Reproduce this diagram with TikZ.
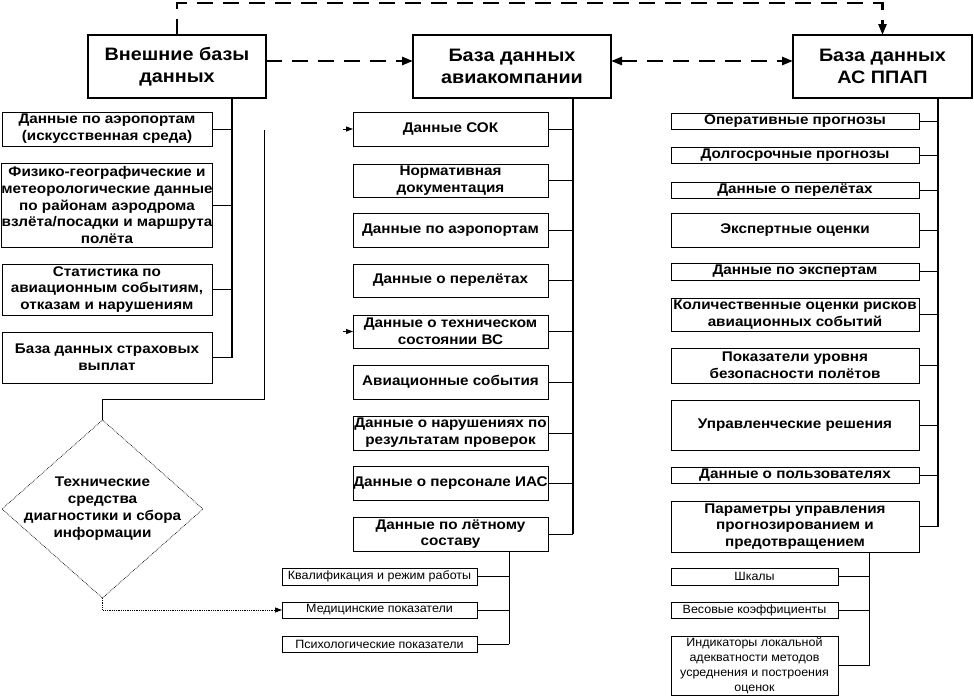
\documentclass[tikz,border=0pt]{standalone}
\usepackage{fontspec}
\setmainfont{Liberation Sans}[FakeStretch=1.04]
\newfontfamily\boxfnt{Liberation Sans}[FakeStretch=1.09]
\newfontfamily\mainfnt{Liberation Sans}[FakeStretch=1.1]
\usetikzlibrary{arrows.meta,shapes.geometric}
\begin{document}
\begin{tikzpicture}[x=1pt,y=-1pt,
  every node/.style={inner sep=0pt, outer sep=0pt},
  mainbox/.style={draw, line width=2.6pt, align=center, minimum height=63pt, font=\mainfnt\fontsize{18}{22}\selectfont\bfseries},
  box/.style={draw, line width=0.9pt, align=center, font=\boxfnt\fontsize{14}{16.8}\selectfont\bfseries},
  lbox/.style={box, minimum width=210pt},
  mbox/.style={box, minimum width=195pt},
  rbox/.style={box, minimum width=248pt},
  subbox/.style={draw, line width=0.9pt, align=center, font=\fontsize{12}{15}\selectfont},
  msub/.style={subbox, minimum width=195pt},
  rsub/.style={subbox, minimum width=167pt},
  trunk/.style={line width=1.8pt},
  thintrunk/.style={line width=1.1pt},
  branch/.style={line width=0.9pt},
  bigdash/.style={line width=2.6pt, dash pattern=on 16pt off 10pt},
  bigtip/.style={-{Triangle[length=11pt,width=8pt]}},
  smalltip/.style={-{Triangle[length=7pt,width=5pt]}}
]
\useasboundingbox (0,0) rectangle (974,696);

% main boxes
\node[mainbox, minimum width=178pt] (ext) at (177,66.5) {Внешние базы\\данных};
\node[mainbox, minimum width=198pt] (air) at (512,66.5) {База данных\\авиакомпании};
\node[mainbox, minimum width=179pt] (ppap) at (882.5,66.5) {База данных\\АС ППАП};

% dashed connections
\draw[bigdash, bigtip] (ext.north) -- ++(0,-32) -| (ppap.north);
\draw[bigdash, bigtip] ([yshift=5.5pt]ext.east) -- ([yshift=5.5pt]air.west);
\draw[bigdash, {Triangle[length=11pt,width=8pt]}-{Triangle[length=11pt,width=8pt]}] ([yshift=5.5pt]air.east) -- ([yshift=5.5pt]ppap.west);

% left column
\node[lbox, minimum height=34pt] (l1) at (107,129) {Данные по аэропортам\\(искусственная среда)};
\node[lbox, minimum height=84pt] (l2) at (107,205) {Физико-географические и\\метеорологические данные\\по районам аэродрома\\взлёта/посадки и маршрута\\полёта};
\node[lbox, minimum height=51pt] (l3) at (107,289.5) {Статистика по\\авиационным событиям,\\отказам и нарушениям};
\node[lbox, minimum height=51pt] (l4) at (107,357.5) {База данных страховых\\выплат};
\coordinate (lt) at (232,357.5);
\draw[trunk] (ext.south -| lt) -- (lt);
\foreach \n in {l1,l2,l3,l4} \draw[branch] (\n.east) -- (\n.east -| lt);

% middle column
\node[mbox, minimum height=34pt] (m1) at (450.5,129) {Данные СОК};
\node[mbox, minimum height=33pt] (m2) at (450.5,180.5) {Нормативная\\документация};
\node[mbox, minimum height=34pt] (m3) at (450.5,230) {Данные по аэропортам};
\node[mbox, minimum height=33pt] (m4) at (450.5,280.5) {Данные о перелётах};
\node[mbox, minimum height=33pt] (m5) at (450.5,331.5) {Данные о техническом\\состоянии ВС};
\node[mbox, minimum height=34pt] (m6) at (450.5,382) {Авиационные события};
\node[mbox, minimum height=34pt] (m7) at (450.5,433) {Данные о нарушениях по\\результатам проверок};
\node[mbox, minimum height=34pt] (m8) at (450.5,483) {Данные о персонале ИАС};
\node[mbox, minimum height=34pt] (m9) at (450.5,534) {Данные по лётному\\составу};
\coordinate (mt) at (573,534);
\draw[trunk] (air.south -| mt) -- (mt);
\foreach \n in {m1,m2,m3,m4,m5,m6,m7,m8,m9} \draw[branch] (\n.east) -- (\n.east -| mt);
\draw[branch, smalltip] ([xshift=-10pt]m1.west) -- (m1.west);
\draw[branch, smalltip] ([xshift=-10pt]m5.west) -- (m5.west);

% middle sub
\node[msub, minimum height=17pt] (s1) at (379.5,576.5) {Квалификация и режим работы};
\node[msub, minimum height=16pt] (s2) at (379.5,610) {Медицинские показатели};
\node[msub, minimum height=16pt] (s3) at (379.5,644) {Психологические показатели};
\coordinate (st) at (509,644);
\draw[branch] (m9.south -| st) -- (st);
\foreach \n in {s1,s2,s3} \draw[branch] (\n.east) -- (\n.east -| st);

% right column
\node[rbox, minimum height=16pt] (r1) at (795,121) {Оперативные прогнозы};
\node[rbox, minimum height=16pt] (r2) at (795,155) {Долгосрочные прогнозы};
\node[rbox, minimum height=16pt] (r3) at (795,190) {Данные о перелётах};
\node[rbox, minimum height=34pt] (r4) at (795,230) {Экспертные оценки};
\node[rbox, minimum height=17pt] (r5) at (795,271.5) {Данные по экспертам};
\node[rbox, minimum height=33pt] (r6) at (795,314.5) {Количественные оценки рисков\\авиационных событий};
\node[rbox, minimum height=35pt] (r7) at (795,365.5) {Показатели уровня\\безопасности полётов};
\node[rbox, minimum height=50pt] (r8) at (795,425) {Управленческие решения};
\node[rbox, minimum height=16pt] (r9) at (795,475) {Данные о пользователях};
\node[rbox, minimum height=51pt] (r10) at (795,526.5) {Параметры управления\\прогнозированием и\\предотвращением};
\coordinate (rt) at (938,526.5);
\draw[thintrunk] (ppap.south -| rt) -- (rt);
\foreach \n in {r1,r2,r3,r4,r5,r6,r7,r8,r9,r10} \draw[branch] (\n.east) -- (\n.east -| rt);

% right sub
\node[rsub, minimum height=17pt] (q1) at (754.5,576.5) {Шкалы};
\node[rsub, minimum height=16pt] (q2) at (754.5,610) {Весовые коэффициенты};
\node[rsub, minimum height=59pt] (q3) at (754.5,665.5) {Индикаторы локальной\\адекватности методов\\усреднения и построения\\оценок};
\coordinate (qt) at (869,665.5);
\draw[branch] (r10.south -| qt) -- (qt);
\foreach \n in {q1,q2,q3} \draw[branch] (\n.east) -- (\n.east -| qt);

% diamond
\node[diamond, draw, densely dotted, line width=0.7pt, minimum width=201pt, minimum height=178pt] (dia) at (102.5,509) {};
\node[align=center, font=\boxfnt\fontsize{14}{17}\selectfont\bfseries] (diat) at (dia.center) {Технические\\средства\\диагностики и сбора\\информации};
\coordinate (gc) at (264,399);
\coordinate (gr) at (264,130);
\draw[branch] (dia.north) |- (gc) -- (gr);
\draw[densely dotted, line width=0.8pt, smalltip] (dia.south) |- (s2.west);
\end{tikzpicture}
\end{document}
